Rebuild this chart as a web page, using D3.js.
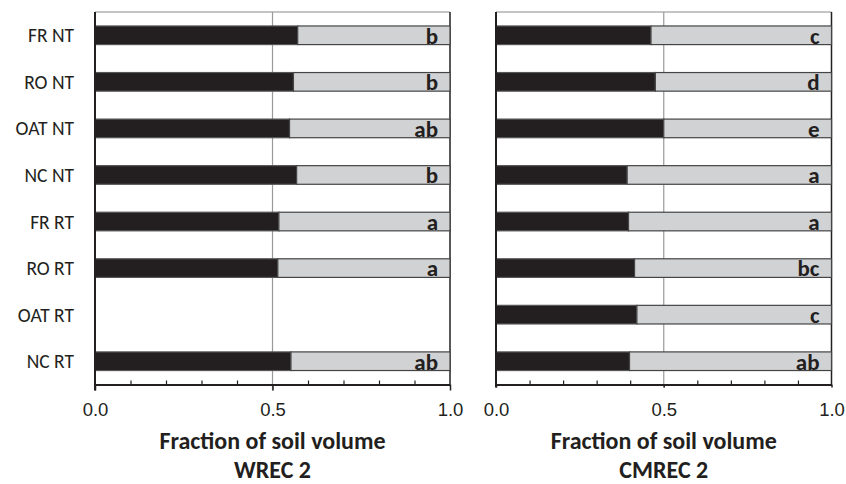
<!DOCTYPE html>
<html>
<head>
<meta charset="utf-8">
<script src="https://cdn.jsdelivr.net/npm/d3@7"></script>
<style>
	body { margin: 0; background: #fff; }
	svg { display: block; font-family: Carlito, Lato, "Open Sans", sans-serif; }
</style>
</head>
<body>
<div id="chart"></div>
<script>

// treatments, top to bottom
var categories = ["FR NT", "RO NT", "OAT NT", "NC NT", "FR RT", "RO RT", "OAT RT", "NC RT"];

// black part of each bar (fraction of soil volume), null = no data
var wrecValues  = [0.571, 0.559, 0.548, 0.568, 0.518, 0.515, null, 0.552];
var cmrecValues = [0.462, 0.475, 0.500, 0.391, 0.395, 0.413, 0.420, 0.398];

// significance letters
var wrecLetters  = ["b", "b", "ab", "b", "a", "a", "", "ab"];
var cmrecLetters = ["c", "d", "e", "a", "a", "bc", "c", "ab"];

var majorTicks = [0, 0.5, 1.0];
var minorTicks = [0.1, 0.2, 0.3, 0.4, 0.6, 0.7, 0.8, 0.9];

var titles = [
	["Fraction of soil volume", "WREC 2"],
	["Fraction of soil volume", "CMREC 2"]
];

var W = 846, H = 484;

var svg = d3.select("#chart")
	.append("svg")
	.attr("width", W)
	.attr("height", H);

var plotTop = 12, plotBottom = 384.5;

function drawPanel( x0, x1, values, letters, title, showLabels, tickLen ) {

	var x = d3.scaleLinear().domain([0, 1]).range([x0, x1]);
	var y = d3.scaleBand().domain(categories).range([plotTop, plotBottom]).paddingInner(0.6).paddingOuter(0.3);

	var g = svg.append("g");

	// top frame line (gray) and right frame line
	g.append("line")
		.attr("x1", x0).attr("x2", x1)
		.attr("y1", plotTop).attr("y2", plotTop)
		.attr("stroke", "#8a8a8a")
		.attr("stroke-width", 1.2);

	g.append("line")
		.attr("x1", x1).attr("x2", x1)
		.attr("y1", plotTop).attr("y2", plotBottom)
		.attr("stroke", "#231f20")
		.attr("stroke-width", 1.5);

	// 0.5 gridline
	g.append("line")
		.attr("x1", x(0.5)).attr("x2", x(0.5))
		.attr("y1", plotTop).attr("y2", plotBottom + tickLen)
		.attr("stroke", "#999")
		.attr("stroke-width", 1.2);

	var rows = categories.map(function(c, i) {
		return { cat: c, v: values[i], letter: letters[i] };
	}).filter(function(d) { return d.v !== null; });

	var bars = g.append("g").selectAll("g")
		.data(rows)
		.enter().append("g");

	bars.append("rect")
		.attr("x", x(0))
		.attr("y", function(d) { return y(d.cat); })
		.attr("width", function(d) { return x(d.v) - x(0); })
		.attr("height", y.bandwidth())
		.style("fill", "#231f20")
		.style("stroke", "#555")
		.style("stroke-width", 1.2);

	bars.append("rect")
		.attr("x", function(d) { return x(d.v); })
		.attr("y", function(d) { return y(d.cat); })
		.attr("width", function(d) { return x(1) - x(d.v); })
		.attr("height", y.bandwidth())
		.style("fill", "#d1d2d4")
		.style("stroke", "#444")
		.style("stroke-width", 1.2);

	bars.append("text")
		.attr("x", x1 - 12)
		.attr("y", function(d) { return y(d.cat) + y.bandwidth() - 1; })
		.attr("text-anchor", "end")
		.attr("font-weight", "bold")
		.attr("font-size", 23)
		.attr("fill", "#231f20")
		.text(function(d) { return d.letter; });

	// left axis line
	g.append("line")
		.attr("x1", x0).attr("x2", x0)
		.attr("y1", plotTop).attr("y2", plotBottom + tickLen)
		.attr("stroke", "#231f20")
		.attr("stroke-width", 2);

	if (showLabels) {
		g.append("g")
			.selectAll("text")
			.data(categories)
			.enter().append("text")
			.attr("x", x0 - 21)
			.attr("y", function(d) { return y(d) + y.bandwidth() / 2; })
			.attr("dy", "0.36em")
			.attr("text-anchor", "end")
			.attr("font-size", 19.5)
			.attr("fill", "#231f20")
			.text(function(d) { return d; });
	}

	// minor ticks, pointing inward
	var minor = g.append("g")
		.attr("transform", "translate(0," + plotBottom + ")")
		.call(d3.axisBottom(x).tickValues(minorTicks).tickSize(-4).tickFormat(""));
	minor.select(".domain").remove();
	minor.selectAll("line").attr("stroke", "#231f20").attr("stroke-width", 1.2);

	// major ticks and labels
	var major = g.append("g")
		.attr("transform", "translate(0," + plotBottom + ")")
		.call(d3.axisBottom(x).tickValues(majorTicks).tickSize(tickLen).tickSizeOuter(0).tickPadding(18 - tickLen).tickFormat(d3.format(".1f")));
	major.select(".domain").attr("stroke", "#231f20").attr("stroke-width", 2);
	major.selectAll(".tick line").attr("stroke", "#231f20").attr("stroke-width", 1.5);
	major.selectAll(".tick text")
		.attr("font-family", null)
		.attr("font-size", 18.5)
		.attr("fill", "#231f20");

	var cx = (x0 + x1) / 2;
	g.append("text")
		.attr("x", cx).attr("y", 449)
		.attr("text-anchor", "middle")
		.attr("font-weight", "bold")
		.attr("font-size", 24)
		.attr("fill", "#231f20")
		.text(title[0]);
	g.append("text")
		.attr("x", cx).attr("y", 478)
		.attr("text-anchor", "middle")
		.attr("font-weight", "bold")
		.attr("font-size", 24)
		.attr("fill", "#231f20")
		.text(title[1]);
}

drawPanel(95, 450, wrecValues, wrecLetters, titles[0], true, 6);
drawPanel(496, 831.5, cmrecValues, cmrecLetters, titles[1], false, 3);

</script>
</body>
</html>
